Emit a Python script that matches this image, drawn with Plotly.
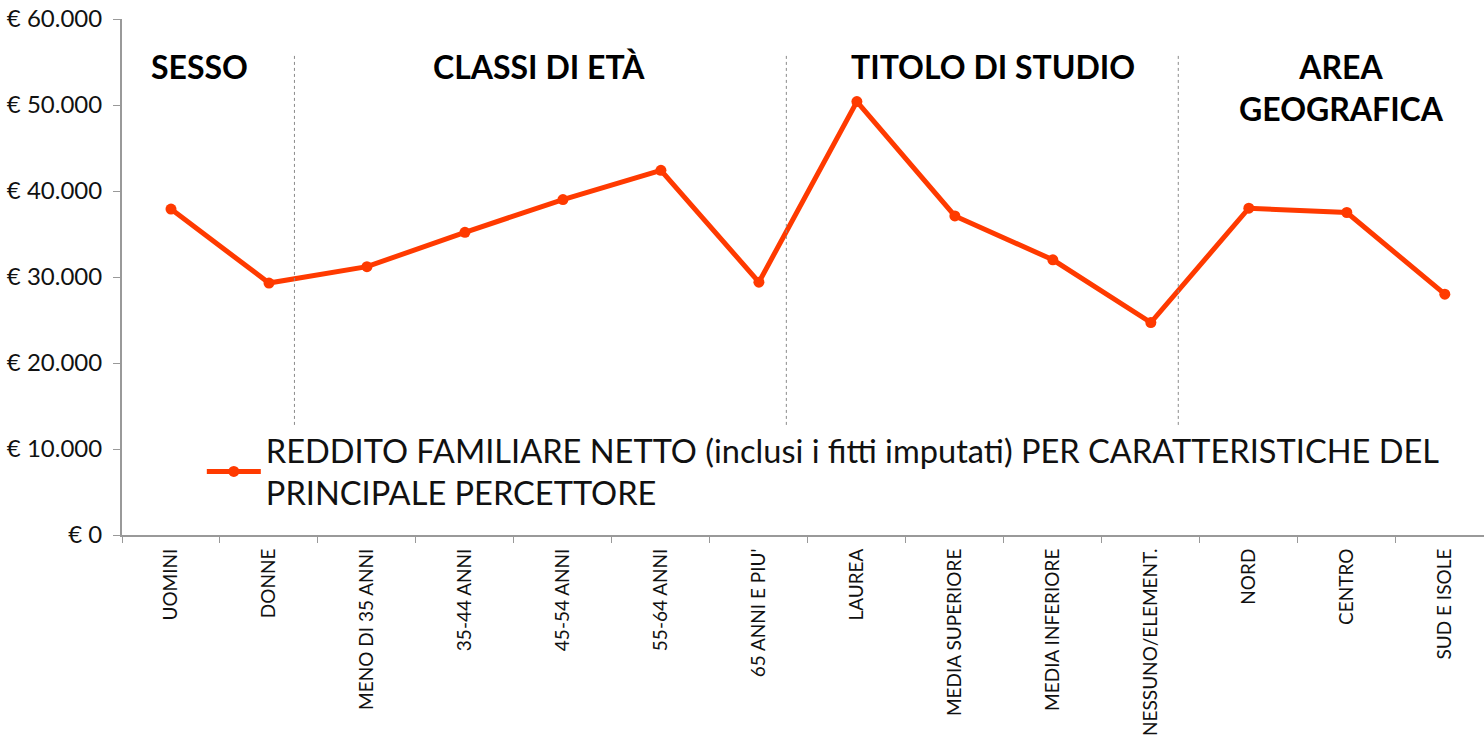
import plotly.graph_objects as go

categories = ["UOMINI", "DONNE", "MENO DI 35 ANNI", "35-44 ANNI", "45-54 ANNI", "55-64 ANNI",
              "65 ANNI E PIU'", "LAUREA", "MEDIA SUPERIORE", "MEDIA INFERIORE",
              "NESSUNO/ELEMENT.", "NORD", "CENTRO", "SUD E ISOLE"]
values = [37900, 29300, 31200, 35200, 39000, 42400, 29400, 50400, 37100, 32000, 24700, 38000, 37500, 28000]
series_name = "REDDITO FAMILIARE NETTO (inclusi i fitti imputati) PER CARATTERISTICHE DEL<br>PRINCIPALE PERCETTORE"
y_tickvals = [0, 10000, 20000, 30000, 40000, 50000, 60000]
y_ticktext = ["€ 0", "€ 10.000", "€ 20.000", "€ 30.000", "€ 40.000", "€ 50.000", "€ 60.000"]
sections = ["SESSO", "CLASSI DI ETÀ", "TITOLO DI STUDIO", "AREA<br>GEOGRAFICA"]
section_centers = [0.287, 3.76, 8.39, 11.95]
separators = [1.26, 6.28, 10.28]

color = "#FF3A00"
fig = go.Figure()
fig.add_trace(go.Scatter(
    x=categories, y=values, mode="lines+markers", name=series_name,
    line=dict(color=color, width=5), marker=dict(color=color, size=11),
))

for s in separators:
    fig.add_shape(type="line", xref="x", yref="y", x0=s, x1=s, y0=12800, y1=55800,
                  line=dict(color="#8a8a8a", width=1, dash="dot"))

for t, c in zip(sections, section_centers):
    fig.add_annotation(x=c, y=57000, xref="x", yref="y", text="<b>" + t + "</b>",
                       showarrow=False, yanchor="top", align="center",
                       font=dict(family="Lato, Open Sans, sans-serif", size=32, color="#000000"))

fig.update_layout(
    width=1484, height=742,
    margin=dict(l=122, r=0, t=19, b=207),
    paper_bgcolor="white", plot_bgcolor="white",
    font=dict(family="Lato, Open Sans, sans-serif", color="#000"),
    showlegend=True,
    legend=dict(x=0.0586, y=0.218, xanchor="left", yanchor="top",
                font=dict(size=32.6, family="Lato, Open Sans, sans-serif", color="#111"),
                bgcolor="rgba(0,0,0,0)", itemwidth=54),
    xaxis=dict(type="category", range=[-0.5, 13.4], showgrid=False, automargin=False,
               showline=True, linecolor="#999999", linewidth=2,
               ticks="outside", tickson="boundaries", ticklen=6, tickcolor="#999999",
               tickangle=-90, tickfont=dict(size=19, color="#111"), ticklabelstandoff=4),
    yaxis=dict(range=[0, 60000], tickvals=y_tickvals, ticktext=y_ticktext, automargin=False,
               showgrid=False, zeroline=False, showline=True, linecolor="#999999", linewidth=2,
               ticks="outside", ticklen=7, tickcolor="#999999", ticklabelstandoff=6,
               tickfont=dict(size=24, color="#111")),
)

fig.write_html("out.html", config={"displayModeBar": False},
               post_script="document.body.style.margin='0';")
